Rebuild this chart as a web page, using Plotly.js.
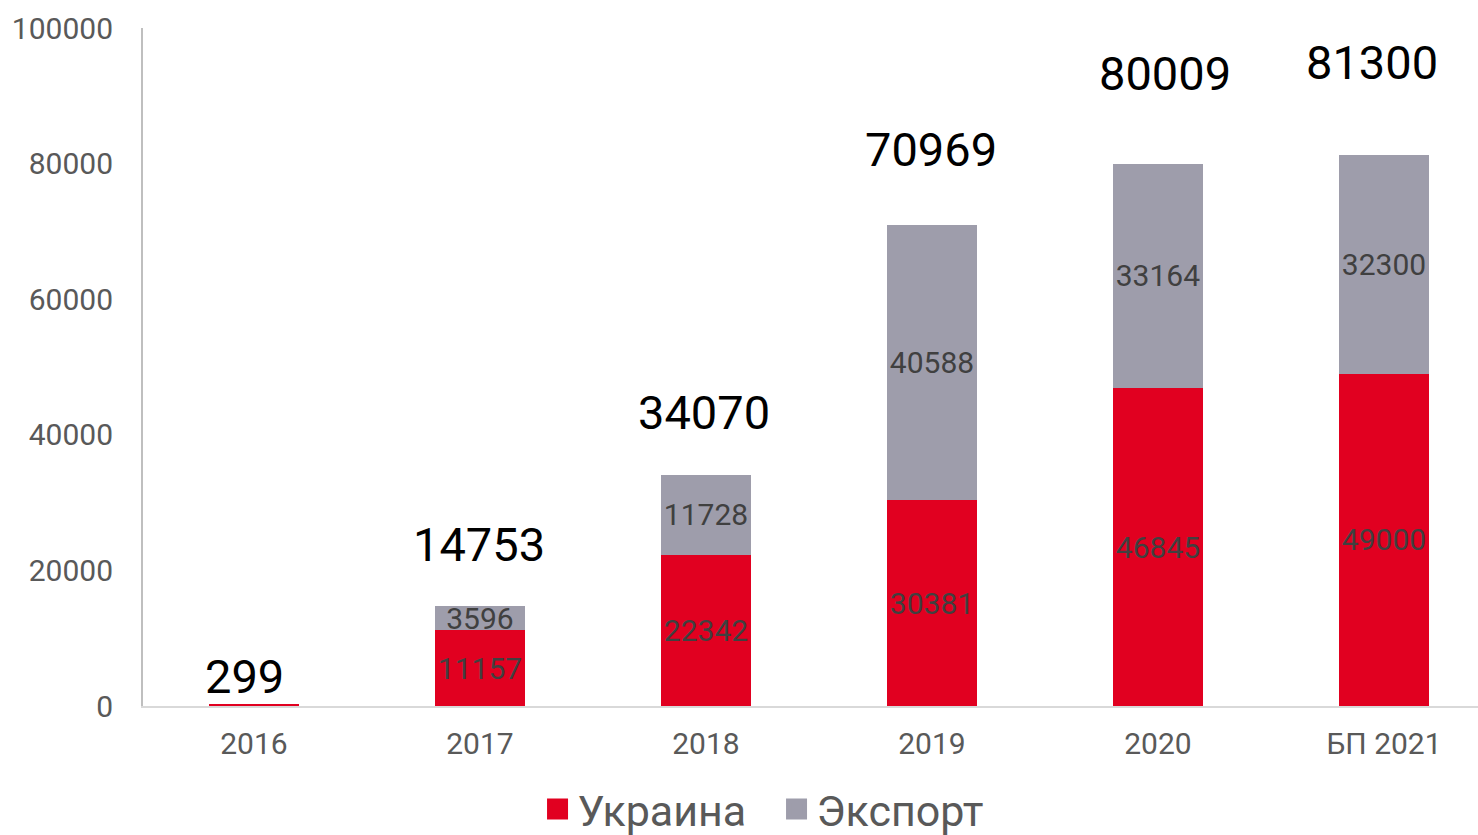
<!DOCTYPE html>
<html>
<head>
<meta charset="utf-8">
<script src="https://cdn.plot.ly/plotly-3.0.1.min.js"></script>
<style>html,body{margin:0;padding:0;background:#fff;}#chart{width:1478px;height:835px;}</style>
</head>
<body>
<div id="chart"></div>
<script>
const categories = ['2016', '2017', '2018', '2019', '2020', 'БП 2021'];
const ukraine = [299, 11157, 22342, 30381, 46845, 49000];
const exportVals = [0, 3596, 11728, 40588, 33164, 32300];
const totals = [299, 14753, 34070, 70969, 80009, 81300];
const yTicks = [0, 20000, 40000, 60000, 80000, 100000];
const seriesNames = ['Украина', 'Экспорт'];
const seriesColors = ['#E10020', '#9E9DAB'];

const totalLabelShiftY = [27, 61, 63, 75, 90, 92];
const totalLabelShiftX = [-9, -1, -2, -1, 7, -12];

const labelText = v => (v > 1000 ? String(v) : '');
const xIdx = categories.map((c, i) => i);

const barTrace = (vals, k) => ({
  type: 'bar', name: seriesNames[k], x: xIdx, y: vals,
  text: vals.map(labelText), textposition: 'inside', insidetextanchor: 'middle',
  textangle: 0, textfont: {family: 'Roboto', size: 30, color: '#404040'},
  marker: {color: seriesColors[k], line: {width: 0}}, width: 0.4,
  hoverinfo: 'none', showlegend: false
});
const legendTrace = k => ({
  type: 'scatter', mode: 'markers', name: seriesNames[k], x: [null], y: [null],
  marker: {symbol: 'square', size: 16, color: seriesColors[k], line: {width: 5, color: seriesColors[k]}},
  showlegend: true
});

const traces = [barTrace(ukraine, 0), barTrace(exportVals, 1), legendTrace(0), legendTrace(1)];

const annotations = xIdx.map(i => ({
  x: i, y: totals[i], xref: 'x', yref: 'y', text: String(totals[i]),
  showarrow: false, yanchor: 'middle', xanchor: 'center',
  yshift: totalLabelShiftY[i], xshift: totalLabelShiftX[i],
  font: {family: 'Roboto', size: 47, color: '#000000'}
}));

const layout = {
  width: 1478, height: 835,
  margin: {l: 143, r: 0, t: 28, b: 129},
  paper_bgcolor: '#ffffff', plot_bgcolor: '#ffffff',
  barmode: 'stack',
  font: {family: 'Roboto', color: '#595959'},
  uniformtext: {mode: 'show', minsize: 30},
  xaxis: {
    type: 'linear', range: [-0.491, 5.416],
    tickvals: xIdx, ticktext: categories,
    showline: true, linecolor: '#D9D9D9', linewidth: 2,
    ticks: 'outside', ticklen: 10, tickcolor: 'rgba(0,0,0,0)',
    tickfont: {family: 'Roboto', size: 30, color: '#595959'},
    showgrid: false, zeroline: false, fixedrange: true
  },
  yaxis: {
    range: [0, 100000], tickvals: yTicks, ticktext: yTicks.map(String),
    showline: true, linecolor: '#BFBFBF', linewidth: 2,
    ticks: 'outside', ticklen: 22, tickcolor: 'rgba(0,0,0,0)',
    tickfont: {family: 'Roboto', size: 30, color: '#595959'},
    showgrid: false, zeroline: false, fixedrange: true
  },
  showlegend: true,
  legend: {
    orientation: 'h', xref: 'container', yref: 'container',
    x: 0.5254, xanchor: 'center', y: 0.031, yanchor: 'middle',
    font: {family: 'Roboto', size: 43, color: '#595959'},
    itemwidth: 30, tracegroupgap: 0, traceorder: 'normal',
    entrywidth: 194, entrywidthmode: 'pixels'
  },
  annotations: annotations
};

Plotly.newPlot('chart', traces, layout, {displayModeBar: false, staticPlot: true});
</script>
</body>
</html>
